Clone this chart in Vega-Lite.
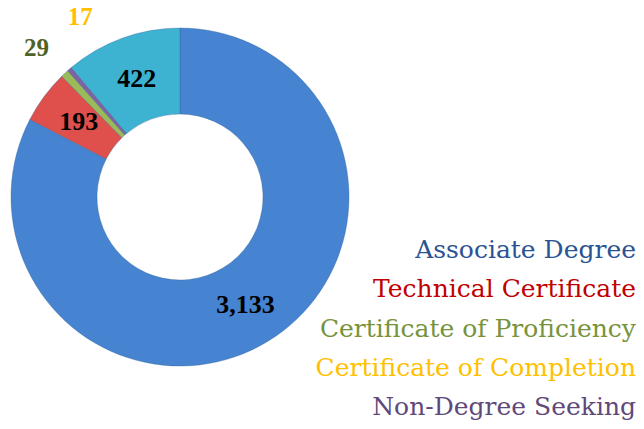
{
  "$schema": "https://vega.github.io/schema/vega-lite/v6.json",
  "padding": 0,
  "spacing": 0,
  "bounds": "flush",
  "background": "white",
  "config": {"view": {"stroke": null}},
  "datasets": {
    "enroll": [
      {"category": "Associate Degree", "ord": 1, "count": 3133},
      {"category": "Technical Certificate", "ord": 2, "count": 193},
      {"category": "Certificate of Proficiency", "ord": 3, "count": 29},
      {"category": "Certificate of Completion", "ord": 4, "count": 17},
      {"category": "Non-Degree Seeking", "ord": 5, "count": 422}
    ]
  },
  "hconcat": [
    {
      "width": 360,
      "height": 394,
      "data": {"name": "enroll"},
      "layer": [
        {
          "mark": {"type": "arc", "radius": 169, "innerRadius": 83, "stroke": "#2f5f95", "strokeWidth": 0.6, "strokeOpacity": 0.6},
          "encoding": {
            "theta": {"field": "count", "type": "quantitative", "stack": true},
            "order": {"field": "ord", "type": "quantitative"},
            "color": {
              "field": "category", "type": "nominal", "legend": null,
              "scale": {
                "domain": ["Associate Degree", "Technical Certificate", "Certificate of Proficiency", "Certificate of Completion", "Non-Degree Seeking"],
                "range": ["#4683D0", "#DF4F4C", "#9BBB59", "#8064A2", "#3DB2D1"]
              }
            }
          }
        },
        {
          "mark": {"type": "text", "radius": 126, "font": "Liberation Serif", "fontWeight": "bold", "fontSize": 26, "fill": "#000000", "baseline": "middle", "align": "center"},
          "encoding": {
            "theta": {"field": "count", "type": "quantitative", "stack": true},
            "order": {"field": "ord", "type": "quantitative"},
            "text": {"condition": {"test": "datum.ord == 1 || datum.ord == 2 || datum.ord == 5", "field": "count", "type": "quantitative", "format": ","}, "value": ""}
          }
        },
        {
          "mark": {"type": "text", "radius": {"expr": "datum.ord == 3 ? 206 : 100"}, "dx": -3, "dy": 2, "font": "Liberation Serif", "fontWeight": "bold", "fontSize": 25, "fill": "#4F6228", "baseline": "middle", "align": "center"},
          "encoding": {
            "theta": {"field": "count", "type": "quantitative", "stack": true},
            "order": {"field": "ord", "type": "quantitative"},
            "text": {"condition": {"test": "datum.ord == 3", "field": "count", "type": "quantitative", "format": ","}, "value": ""}
          }
        },
        {
          "mark": {"type": "text", "radius": {"expr": "datum.ord == 4 ? 206 : 100"}, "dx": 35, "dy": -24, "font": "Liberation Serif", "fontWeight": "bold", "fontSize": 25, "fill": "#FFC000", "baseline": "middle", "align": "center"},
          "encoding": {
            "theta": {"field": "count", "type": "quantitative", "stack": true},
            "order": {"field": "ord", "type": "quantitative"},
            "text": {"condition": {"test": "datum.ord == 4", "field": "count", "type": "quantitative", "format": ","}, "value": ""}
          }
        }
      ]
    },
    {
      "width": 284,
      "height": 429,
      "data": {"name": "enroll"},
      "mark": {"type": "text", "align": "right", "baseline": "middle", "font": "DejaVu Serif", "fontSize": 25, "x": 276},
      "encoding": {
        "y": {
          "field": "category", "type": "nominal", "axis": null,
          "sort": ["Associate Degree", "Technical Certificate", "Certificate of Proficiency", "Certificate of Completion", "Non-Degree Seeking"],
          "scale": {"type": "point", "padding": 0, "range": [250, 407]}
        },
        "text": {"field": "category", "type": "nominal"},
        "color": {
          "field": "category", "type": "nominal", "legend": null,
          "scale": {
            "domain": ["Associate Degree", "Technical Certificate", "Certificate of Proficiency", "Certificate of Completion", "Non-Degree Seeking"],
            "range": ["#2A5394", "#C00000", "#77933C", "#FFC000", "#5F497A"]
          }
        }
      }
    }
  ],
  "resolve": {"scale": {"color": "independent"}}
}
